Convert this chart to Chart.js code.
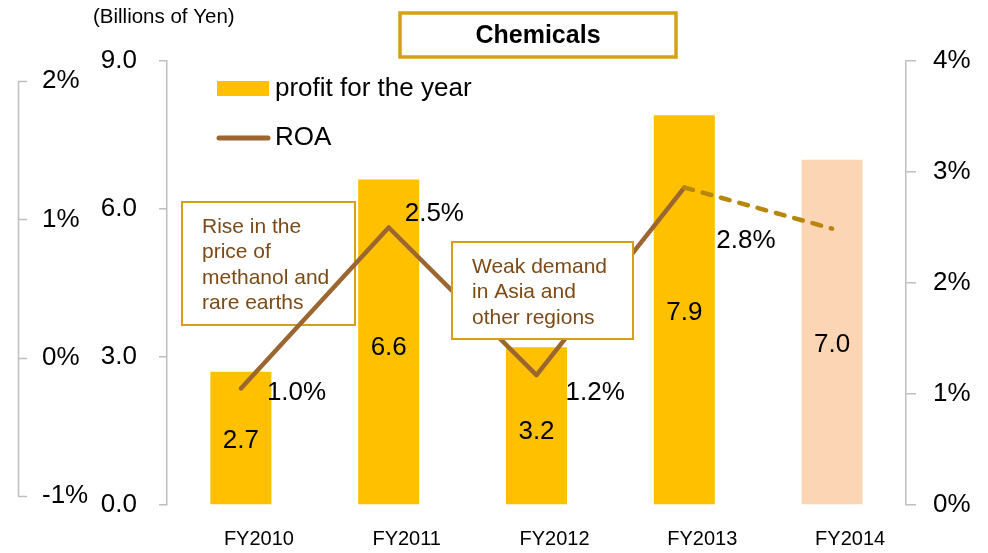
<!DOCTYPE html>
<html>
<head>
<meta charset="utf-8">
<title>Chemicals</title>
<script src="https://cdn.jsdelivr.net/npm/chart.js@4"></script>
<style>
  html, body { margin: 0; padding: 0; background: #fff; }
  #chart { display: block; }
</style>
</head>
<body>
<canvas id="chart" width="988" height="553"></canvas>
<script>
const categories = ["FY2010", "FY2011", "FY2012", "FY2013", "FY2014"];
const profit = [2.7, 6.6, 3.2, 7.9, 7.0];
const profitLabels = ["2.7", "6.6", "3.2", "7.9", "7.0"];
const roa = [1.05, 2.5, 1.17, 2.86, 2.49];
const roaLabels = ["1.0%", "2.5%", "1.2%", "2.8%", ""];
const profitTicks = [0, 3, 6, 9];
const roaTicks = [0, 1, 2, 3, 4];
const outerPctTicks = [-1, 0, 1, 2];
const note1 = ["Rise in the", "price of", "methanol and", "rare earths"];
const note2 = ["Weak demand", "in Asia and", "other regions"];

const FONT = '"Liberation Sans", Arial, sans-serif';
const YELLOW = "#FFC000";
const PEACH = "#FCD5B4";
const BROWN = "#9C6631";
const DASH = "#B8860B";
const GOLD = "#D4A017";
const NOTE_TEXT = "#7B4A16";
const AXIS = "#BFBFBF";

// label nudges (px) relative to the ROA point / bar middle
const roaLabelShift = [[26, 4], [16, -14], [29, 18], [32, 53], [0, 0]];
const barLabelShift = [3, 6, 6, 3, 13];

function noteBox(ctx, x, y, w, h, lines, baseline0, step, fill) {
  ctx.save();
  if (fill) {
    ctx.fillStyle = "#fff";
    ctx.fillRect(x, y, w, h);
  }
  ctx.strokeStyle = GOLD;
  ctx.lineWidth = 2;
  ctx.strokeRect(x, y, w, h);
  ctx.fillStyle = NOTE_TEXT;
  ctx.font = `21px ${FONT}`;
  ctx.textAlign = "left";
  ctx.textBaseline = "alphabetic";
  lines.forEach((t, i) => ctx.fillText(t, x + 20, baseline0 + i * step));
  ctx.restore();
}

const decor = {
  id: "decor",
  beforeDatasetsDraw(chart) {
    noteBox(chart.ctx, 182, 202, 173, 123, note1, 233, 25.3, false);
  },
  afterDatasetsDraw(chart) {
    const ctx = chart.ctx;
    noteBox(ctx, 452, 242, 181, 97, note2, 273, 25.3, true);

    ctx.save();
    ctx.fillStyle = "#000";
    ctx.font = `26px ${FONT}`;
    ctx.textBaseline = "middle";

    // bar values
    ctx.textAlign = "center";
    chart.getDatasetMeta(1).data.forEach((bar, i) => {
      const mid = (bar.y + bar.base) / 2 + barLabelShift[i];
      ctx.fillText(profitLabels[i], bar.x, mid);
    });

    // ROA values
    ctx.textAlign = "left";
    chart.getDatasetMeta(0).data.forEach((pt, i) => {
      if (!roaLabels[i]) return;
      ctx.fillText(roaLabels[i], pt.x + roaLabelShift[i][0], pt.y + roaLabelShift[i][1]);
    });
    ctx.restore();
  },
  afterDraw(chart) {
    const ctx = chart.ctx;
    ctx.save();

    // title box
    ctx.strokeStyle = GOLD;
    ctx.lineWidth = 3.5;
    ctx.strokeRect(400, 13, 276, 44);
    ctx.fillStyle = "#000";
    ctx.font = `bold 25px ${FONT}`;
    ctx.textAlign = "center";
    ctx.textBaseline = "middle";
    ctx.fillText("Chemicals", 538, 36);

    // unit
    ctx.font = `20.5px ${FONT}`;
    ctx.textAlign = "left";
    ctx.fillText("(Billions of Yen)", 93, 17);

    // legend
    ctx.font = `26px ${FONT}`;
    ctx.fillStyle = YELLOW;
    ctx.fillRect(217, 81, 52, 15);
    ctx.fillStyle = "#000";
    ctx.fillText(chart.data.datasets[1].label, 275, 89);
    ctx.strokeStyle = BROWN;
    ctx.lineWidth = 5;
    ctx.lineCap = "round";
    ctx.beginPath();
    ctx.moveTo(219, 138);
    ctx.lineTo(268, 138);
    ctx.stroke();
    ctx.fillText(chart.data.datasets[0].label, 275, 138);

    // outer percent axis (left edge)
    const s = chart.scales.y3;
    ctx.strokeStyle = AXIS;
    ctx.lineWidth = 1.5;
    ctx.lineCap = "butt";
    ctx.beginPath();
    ctx.moveTo(18.5, s.getPixelForValue(2));
    ctx.lineTo(18.5, s.getPixelForValue(-1));
    outerPctTicks.forEach(v => {
      const y = Math.round(s.getPixelForValue(v)) + 0.5;
      ctx.moveTo(18, y);
      ctx.lineTo(27, y);
    });
    ctx.stroke();
    ctx.fillStyle = "#000";
    ctx.textAlign = "left";
    outerPctTicks.forEach(v => ctx.fillText(v + "%", 42, s.getPixelForValue(v)));
    ctx.restore();
  },
};

new Chart(document.getElementById("chart"), {
  type: "bar",
  data: {
    labels: categories,
    datasets: [
      {
        type: "line",
        label: "ROA",
        data: roa,
        yAxisID: "y2",
        order: 0,
        borderColor: BROWN,
        borderWidth: 4.5,
        borderCapStyle: "round",
        borderJoinStyle: "round",
        pointRadius: 0,
        tension: 0,
        segment: {
          borderColor: c => (c.p0DataIndex === 3 ? DASH : undefined),
          borderDash: c => (c.p0DataIndex === 3 ? [9, 10] : undefined),
        },
      },
      {
        label: "profit for the year",
        data: profit,
        yAxisID: "y",
        order: 1,
        backgroundColor: profit.map((v, i) => (i === profit.length - 1 ? PEACH : YELLOW)),
        categoryPercentage: 1,
        barPercentage: 0.413,
      },
    ],
  },
  options: {
    responsive: false,
    animation: false,
    devicePixelRatio: 1,
    layout: { padding: { top: 61, left: 0, right: 0, bottom: 0 } },
    plugins: { legend: { display: false }, tooltip: { enabled: false } },
    scales: {
      x: {
        grid: { display: false, drawTicks: false },
        border: { display: false },
        ticks: { color: "#000", font: { family: FONT, size: 20 }, padding: 22, labelOffset: 18 },
        afterFit: s => { s.height = 48; },
      },
      y: {
        position: "left",
        min: 0,
        max: 9,
        afterBuildTicks: s => { s.ticks = profitTicks.map(v => ({ value: v })); },
        grid: { drawOnChartArea: false, tickLength: 8, color: AXIS, lineWidth: 1.5 },
        border: { color: AXIS, width: 1.5 },
        ticks: { color: "#000", font: { family: FONT, size: 26 }, padding: 22, callback: v => v.toFixed(1) },
        afterFit: s => { s.width = 167; },
      },
      y2: {
        position: "right",
        min: 0,
        max: 4,
        afterBuildTicks: s => { s.ticks = roaTicks.map(v => ({ value: v })); },
        grid: { drawOnChartArea: false, tickLength: 10, color: AXIS, lineWidth: 1.5 },
        border: { color: AXIS, width: 1.5 },
        ticks: { color: "#000", font: { family: FONT, size: 26 }, padding: 17, callback: v => v + "%" },
        afterFit: s => { s.width = 82; },
      },
      y3: {
        display: false,
        position: "left",
        min: -1.065,
        max: 2.145,
      },
    },
  },
  plugins: [decor],
});
</script>
</body>
</html>
